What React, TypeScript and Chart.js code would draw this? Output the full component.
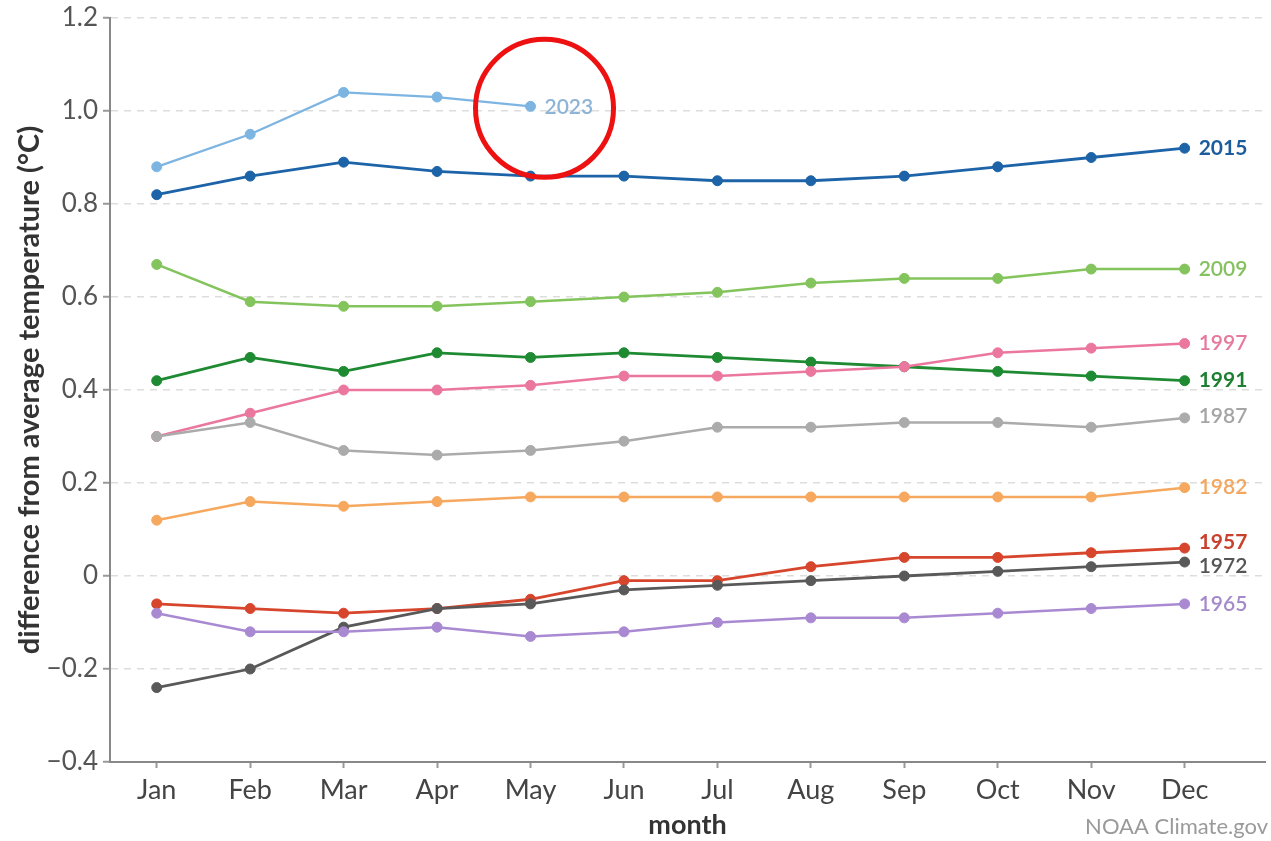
import React, { useEffect, useRef } from "react";
import { Chart, registerables } from "chart.js";

Chart.register(...registerables);

const months = ["Jan", "Feb", "Mar", "Apr", "May", "Jun", "Jul", "Aug", "Sep", "Oct", "Nov", "Dec"];

const yTickValues = [-0.4, -0.2, 0, 0.2, 0.4, 0.6, 0.8, 1.0, 1.2];
const yTickLabels = ["\u22120.4", "\u22120.2", "0", "0.2", "0.4", "0.6", "0.8", "1.0", "1.2"];

const y2023 = [0.88, 0.95, 1.04, 1.03, 1.01];
const y2015 = [0.82, 0.86, 0.89, 0.87, 0.86, 0.86, 0.85, 0.85, 0.86, 0.88, 0.9, 0.92];
const y2009 = [0.67, 0.59, 0.58, 0.58, 0.59, 0.6, 0.61, 0.63, 0.64, 0.64, 0.66, 0.66];
const y1991 = [0.42, 0.47, 0.44, 0.48, 0.47, 0.48, 0.47, 0.46, 0.45, 0.44, 0.43, 0.42];
const y1997 = [0.3, 0.35, 0.4, 0.4, 0.41, 0.43, 0.43, 0.44, 0.45, 0.48, 0.49, 0.5];
const y1987 = [0.3, 0.33, 0.27, 0.26, 0.27, 0.29, 0.32, 0.32, 0.33, 0.33, 0.32, 0.34];
const y1982 = [0.12, 0.16, 0.15, 0.16, 0.17, 0.17, 0.17, 0.17, 0.17, 0.17, 0.17, 0.19];
const y1957 = [-0.06, -0.07, -0.08, -0.07, -0.05, -0.01, -0.01, 0.02, 0.04, 0.04, 0.05, 0.06];
const y1972 = [-0.24, -0.2, -0.11, -0.07, -0.06, -0.03, -0.02, -0.01, 0.0, 0.01, 0.02, 0.03];
const y1965 = [-0.08, -0.12, -0.12, -0.11, -0.13, -0.12, -0.1, -0.09, -0.09, -0.08, -0.07, -0.06];

const FONT = "Lato, 'Open Sans', sans-serif";

type SeriesDef = {
  label: string;
  values: number[];
  color: string;
  textColor: string;
  weight: string;
  nudge: number;
  lineWidth: number;
};

const series: SeriesDef[] = [
  { label: "1965", values: y1965, color: "#a98ad2", textColor: "#a58acb", weight: "600", nudge: 0, lineWidth: 2.5 },
  { label: "1972", values: y1972, color: "#595959", textColor: "#555555", weight: "600", nudge: 4, lineWidth: 2.8 },
  { label: "1957", values: y1957, color: "#d6452c", textColor: "#c9412c", weight: "bold", nudge: -6, lineWidth: 2.8 },
  { label: "1982", values: y1982, color: "#f6a85e", textColor: "#f2a65f", weight: "600", nudge: 0, lineWidth: 2.5 },
  { label: "1987", values: y1987, color: "#ababab", textColor: "#a5a5a5", weight: "600", nudge: -2, lineWidth: 2.5 },
  { label: "1997", values: y1997, color: "#eb779f", textColor: "#e57a9d", weight: "600", nudge: 0, lineWidth: 2.5 },
  { label: "1991", values: y1991, color: "#1e8a32", textColor: "#1e7f32", weight: "bold", nudge: 0, lineWidth: 2.8 },
  { label: "2009", values: y2009, color: "#84c45c", textColor: "#86c160", weight: "600", nudge: 0, lineWidth: 2.5 },
  { label: "2015", values: y2015, color: "#1c63a8", textColor: "#1c5c9c", weight: "bold", nudge: 0, lineWidth: 2.8 },
  { label: "2023", values: y2023, color: "#7db5e2", textColor: "#8eb4d6", weight: "600", nudge: 1, lineWidth: 2.3 },
];

const endLabels = {
  id: "endLabels",
  afterDatasetsDraw(chart: any) {
    const ctx = chart.ctx;
    ctx.save();
    chart.data.datasets.forEach((ds: any, i: number) => {
      const meta = chart.getDatasetMeta(i);
      const pt = meta.data[meta.data.length - 1];
      if (!pt) return;
      const s: SeriesDef = ds._def;
      ctx.font = `${s.weight} 21px ${FONT}`;
      ctx.fillStyle = s.textColor;
      ctx.textAlign = "left";
      ctx.textBaseline = "middle";
      ctx.fillText(s.label, pt.x + 14, pt.y + s.nudge);
      if (s.label === "2023") {
        ctx.beginPath();
        ctx.strokeStyle = "#ee1111";
        ctx.lineWidth = 5;
        ctx.arc(pt.x + 14, pt.y + 2, 69, 0, Math.PI * 2);
        ctx.stroke();
      }
    });
    ctx.font = `400 22px ${FONT}`;
    ctx.fillStyle = "#9a9a9a";
    ctx.textAlign = "right";
    ctx.textBaseline = "middle";
    ctx.fillText("NOAA Climate.gov", 1268, 827);
    ctx.restore();
  },
};

export default function App() {
  const ref = useRef<HTMLCanvasElement | null>(null);

  useEffect(() => {
    if (!ref.current) return;
    const chart = new Chart(ref.current, {
      type: "line",
      data: {
        datasets: series.map((s) => ({
          label: s.label,
          data: s.values.map((v, i) => ({ x: i, y: v })),
          borderColor: s.color,
          backgroundColor: s.color,
          pointBackgroundColor: s.color,
          pointBorderColor: s.color,
          pointRadius: 5,
          pointBorderWidth: 1,
          borderWidth: s.lineWidth,
          tension: 0,
          fill: false,
          _def: s,
        })) as any,
      },
      options: {
        animation: false,
        responsive: false,
        maintainAspectRatio: false,
        layout: { padding: { top: 13, right: 3, left: 0, bottom: 0 } },
        plugins: {
          legend: { display: false },
          tooltip: { enabled: false },
        },
        scales: {
          x: {
            type: "linear",
            min: -0.5,
            max: 11.86,
            afterBuildTicks: (scale: any) => {
              scale.ticks = months.map((_, i) => ({ value: i }));
            },
            afterFit: (scale: any) => {
              scale.height = 79;
            },
            ticks: {
              autoSkip: false,
              maxRotation: 0,
              padding: 6,
              color: "#444",
              font: { family: FONT, size: 27 },
              callback: (value: any) => months[Math.round(value)] ?? "",
            },
            grid: {
              color: "transparent",
              tickColor: "#999",
              tickLength: 6,
              tickWidth: 2,
              drawOnChartArea: false,
            },
            border: { display: true, color: "#888", width: 2 },
            title: {
              display: true,
              text: "month",
              color: "#333",
              font: { family: FONT, size: 27, weight: "bold" },
              padding: { top: 0, bottom: 0 },
            },
          },
          y: {
            type: "linear",
            min: -0.4,
            max: 1.2,
            afterBuildTicks: (scale: any) => {
              scale.ticks = yTickValues.map((v) => ({ value: v }));
            },
            afterFit: (scale: any) => {
              scale.width = 110;
            },
            ticks: {
              padding: 5,
              color: "#555",
              font: { family: FONT, size: 26, lineHeight: 1.0 },
              callback: (_v: any, index: number) => yTickLabels[index],
            },
            grid: {
              color: "#dddddd",
              lineWidth: 1.5,
              tickColor: "#999",
              tickLength: 7,
              tickWidth: 2,
            },
            border: { display: true, color: "#888", width: 2, dash: [7, 6] },
            title: {
              display: true,
              text: "difference from average temperature (\u00B0C)",
              color: "#333",
              font: { family: FONT, size: 29, weight: "bold" },
              padding: { top: 12, bottom: 0 },
            },
          },
        },
      },
      plugins: [endLabels],
    });
    return () => chart.destroy();
  }, []);

  return (
    <div style={{ position: "fixed", left: 0, top: 0, width: 1271, height: 841, background: "#fff" }}>
      <canvas ref={ref} width={1271} height={841} style={{ width: 1271, height: 841, display: "block" }} />
    </div>
  );
}
